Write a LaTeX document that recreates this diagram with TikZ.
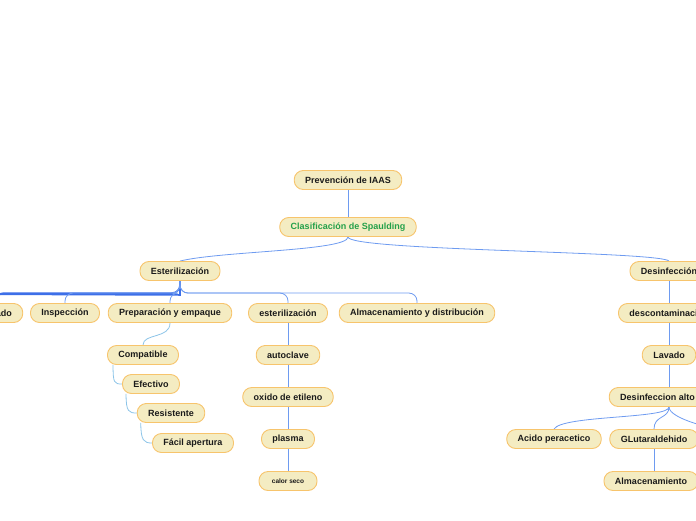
\documentclass[tikz,border=0pt]{standalone}
\usepackage{fontspec}
\setmainfont{Liberation Sans}
\usetikzlibrary{backgrounds}
\definecolor{nfill}{HTML}{F4ECC2}
\definecolor{nedge}{HTML}{F7C46C}
\definecolor{lblue}{HTML}{6E9BF0}
\definecolor{dblue}{HTML}{3D6FE8}
\definecolor{sblue}{HTML}{8CC4E8}
\definecolor{tgreen}{HTML}{23A04A}
\definecolor{tdark}{HTML}{1A1A1A}
\begin{document}
\begin{tikzpicture}[x=1pt,y=-1pt,
  box/.style={draw=nedge, fill=nfill, line width=0.9pt, rounded corners=9pt,
    minimum height=19pt, inner xsep=11pt, inner ysep=0pt,
    font=\fontsize{9}{10}\selectfont\bfseries, text=tdark},
  smallbox/.style={box, font=\fontsize{6.5}{7}\selectfont\bfseries, minimum width=58pt},
  conn/.style={draw=lblue, line width=0.8pt},
  thickconn/.style={draw=dblue, line width=1.6pt},
  sconn/.style={draw=sblue, line width=0.8pt},
  rconn/.style={conn, rounded corners=8pt}]
\useasboundingbox (0,0) rectangle (696,520);
\clip (0,0) rectangle (696,520);
% nodes
\node[box] (prev) at (348,180) {Prevención de IAAS};
\node[box, text=tgreen] (clas) at (348,227) {Clasificación de Spaulding};
\node[box] (ester) at (180,271) {Esterilización};
\node[box] (desinf) at (669,271) {Desinfección};
\node[box] (lav1) at (-4,313) {Lavado};
\node[box] (insp) at (65,313) {Inspección};
\node[box] (prep) at (170,313) {Preparación y empaque};
\node[box] (este2) at (288,313) {esterilización};
\node[box] (alm) at (417,313) {Almacenamiento y distribución};
\node[box] (comp) at (143,355) {Compatible};
\node[box] (efec) at (151,384) {Efectivo};
\node[box] (resi) at (171,413) {Resistente};
\node[box] (facil) at (193,443) {Fácil apertura};
\node[box] (auto) at (288,355) {autoclave};
\node[box] (oxido) at (288,397) {oxido de etileno};
\node[box] (plasma) at (288,439) {plasma};
\node[smallbox] (calor) at (288,481) {calor seco};
\node[box] (desc) at (669,313) {descontaminación};
\node[box] (lav2) at (669,355) {Lavado};
\node[box] (dalto) at (669,397) {Desinfeccion alto nivel};
\node[box] (acido) at (554,439) {Acido peracetico};
\node[box] (glut) at (654,439) {GLutaraldehido};
\node[box] (almac) at (651,481) {Almacenamiento};
\coordinate (offr) at (735,432);
\coordinate (offl) at (-60,294);

\begin{scope}[on background layer]
% top
\draw[conn, line width=1pt] (prev.south) -- (clas.north);
\draw[conn] (clas.south) .. controls ([yshift=-14pt]clas.south) and ([yshift=10pt]ester.north east) .. (ester.north);
\draw[conn] (clas.south) .. controls ([yshift=-14pt]clas.south) and ([xshift=-10pt,yshift=10pt]desinf.north) .. (desinf.north);
% Esterilizacion bus
\draw[thickconn] (ester.south) -- ([yshift=-14pt]ester.south) -- (offl);
\draw[thickconn, rounded corners=8pt] (ester.south) |- ([yshift=10pt]lav1.north) -- (lav1.north);
\draw[rconn] (ester.south) |- ([yshift=10pt]insp.north) -- (insp.north);
\draw[rconn] (ester.south) |- ([yshift=10pt]prep.north) -- (prep.north);
\draw[rconn] (ester.south) |- ([yshift=10pt]este2.north) -- (este2.north);
\draw[rconn] (ester.south) |- ([yshift=10pt]alm.north) -- (alm.north);
% Preparacion subtree
\draw[sconn] (prep.south) .. controls ([yshift=-16pt]prep.south) and ([yshift=12pt]comp.north) .. (comp.north);
\draw[sconn] ([xshift=6pt]comp.south west) .. controls ([xshift=6pt,yshift=-18pt]comp.south west) and ([xshift=-8pt]efec.west) .. (efec.west);
\draw[sconn] ([xshift=4pt]efec.south west) .. controls ([xshift=4pt,yshift=-18pt]efec.south west) and ([xshift=-8pt]resi.west) .. (resi.west);
\draw[sconn] ([xshift=4pt]resi.south west) .. controls ([xshift=4pt,yshift=-18pt]resi.south west) and ([xshift=-8pt]facil.west) .. (facil.west);
% esterilizacion chain
\draw[conn] (este2.south) -- (auto.north);
\draw[conn] (auto.south) -- (oxido.north);
\draw[conn] (oxido.south) -- (plasma.north);
\draw[conn] (plasma.south) -- (calor.north);
% Desinfeccion chain
\draw[conn] (desinf.south) -- (desc.north);
\draw[conn] (desc.south) -- (lav2.north);
\draw[conn] (lav2.south) -- (dalto.north);
\draw[conn] (dalto.south) .. controls ([yshift=-12pt]dalto.south) and ([xshift=8pt,yshift=14pt]acido.north) .. (acido.north);
\draw[conn] (dalto.south) .. controls ([yshift=-12pt]dalto.south) and ([yshift=14pt]glut.north) .. (glut.north);
\draw[conn] (dalto.south) .. controls ([yshift=-12pt]dalto.south) and ([xshift=-20pt,yshift=2pt]offr) .. (offr);
\draw[conn] (glut.south) -- (glut.south |- almac.north);
\end{scope}
\end{tikzpicture}
\end{document}
